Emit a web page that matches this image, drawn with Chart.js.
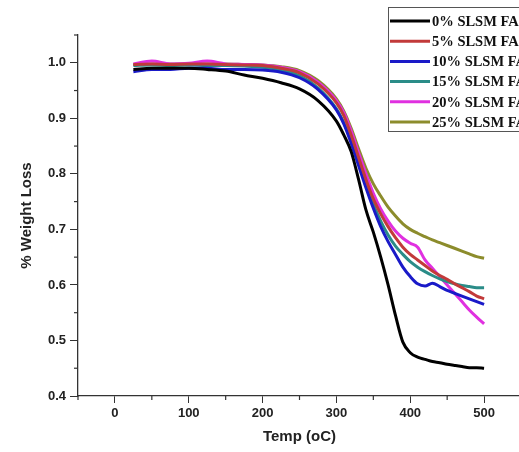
<!DOCTYPE html>
<html>
<head>
<meta charset="utf-8">
<script src="https://cdn.jsdelivr.net/npm/chart.js@4/dist/chart.umd.min.js"></script>
<style>
  html, body { margin: 0; padding: 0; background: #fff; overflow: hidden; }
  #wrap { width: 524px; height: 452px; }
</style>
</head>
<body>
<div id="wrap"><canvas id="tga"></canvas></div>
<script>
// temperature points (oC)
var temps = [25, 50, 75, 100, 125, 150, 175, 200, 225, 250, 275, 300, 310, 320, 330, 340, 350,
  360, 370, 380, 390, 400, 410, 420, 430, 440, 450, 460, 470, 480, 490, 500];

var labels = ["0% SLSM FA", "5% SLSM FA", "10% SLSM FA", "15% SLSM FA", "20% SLSM FA", "25% SLSM FA"];
var colors = ["#000000", "#c23a3a", "#1a1ac8", "#2a8c88", "#e030e0", "#8c8c2c"];

var slsm0 = [0.988, 0.990, 0.990, 0.990, 0.988, 0.985, 0.978, 0.972, 0.964, 0.953, 0.932, 0.895, 0.870, 0.840,
  0.790, 0.735, 0.695, 0.650, 0.600, 0.545, 0.497, 0.478, 0.470, 0.466, 0.462, 0.460, 0.457, 0.455, 0.453, 0.451, 0.451, 0.450];
var slsm5 = [0.997, 0.998, 0.997, 0.998, 0.998, 0.997, 0.996, 0.995, 0.990, 0.982, 0.962, 0.928, 0.905, 0.870,
  0.830, 0.790, 0.755, 0.728, 0.705, 0.685, 0.668, 0.655, 0.645, 0.635, 0.625, 0.617, 0.610, 0.602, 0.595, 0.588, 0.580, 0.575];
var slsm10 = [0.984, 0.988, 0.988, 0.990, 0.990, 0.988, 0.988, 0.987, 0.983, 0.973, 0.952, 0.915, 0.890, 0.855,
  0.815, 0.775, 0.738, 0.705, 0.678, 0.655, 0.632, 0.615, 0.602, 0.598, 0.603, 0.597, 0.590, 0.585, 0.580, 0.575, 0.570, 0.565];
var slsm15 = [0.995, 0.996, 0.995, 0.996, 0.995, 0.995, 0.994, 0.992, 0.987, 0.977, 0.955, 0.917, 0.892, 0.860,
  0.820, 0.780, 0.745, 0.715, 0.690, 0.670, 0.655, 0.642, 0.632, 0.624, 0.617, 0.611, 0.606, 0.602, 0.599, 0.597, 0.595, 0.595];
var slsm20 = [0.998, 1.003, 0.998, 0.999, 1.003, 0.998, 0.997, 0.996, 0.992, 0.984, 0.965, 0.932, 0.910, 0.877,
  0.838, 0.800, 0.765, 0.737, 0.715, 0.697, 0.684, 0.675, 0.668, 0.645, 0.630, 0.615, 0.600, 0.585, 0.570, 0.555, 0.542, 0.530];
var slsm25 = [0.997, 0.998, 0.998, 0.998, 0.998, 0.998, 0.997, 0.996, 0.993, 0.986, 0.968, 0.935, 0.913, 0.882,
  0.845, 0.810, 0.782, 0.760, 0.740, 0.724, 0.710, 0.700, 0.693, 0.687, 0.681, 0.676, 0.671, 0.666, 0.661, 0.656, 0.651, 0.648];

var series = [slsm0, slsm5, slsm10, slsm15, slsm20, slsm25];

function toPoints(vals) {
  return vals.map(function(v, i) { return {x: temps[i], y: v}; });
}

var datasets = series.map(function(vals, i) {
  return {
    label: labels[i],
    data: toPoints(vals),
    borderColor: colors[i],
    backgroundColor: colors[i],
    borderWidth: 3,
    pointRadius: 0,
    fill: false,
    cubicInterpolationMode: "monotone"
  };
});

var axisColor = "#333";
var tickFont = {family: "Liberation Sans", weight: "bold", size: 13};
var titleFont = {family: "Liberation Sans", weight: "bold", size: 15};

function isMajorX(v) { return v >= 0 && v <= 500 && v % 100 === 0; }
function isMajorY(v) { return Math.round(v * 100) % 10 === 0; }

// boxed legend in the top right corner + short minor ticks
var boxLegend = {
  id: "boxLegend",
  afterDraw: function(chart) {
    var ctx = chart.ctx;
    var xs = chart.scales.x, ys = chart.scales.y;
    ctx.save();
    ctx.strokeStyle = axisColor;
    ctx.lineWidth = 1.2;
    for (var t = -50; t <= 550; t += 50) {
      if (isMajorX(t)) continue;
      var px = xs.getPixelForValue(t);
      ctx.beginPath(); ctx.moveTo(px, ys.bottom); ctx.lineTo(px, ys.bottom + 4); ctx.stroke();
    }
    for (var k = 8; k <= 21; k++) {
      var v = k * 0.05;
      if (isMajorY(v)) continue;
      var py = ys.getPixelForValue(v);
      ctx.beginPath(); ctx.moveTo(xs.left, py); ctx.lineTo(xs.left - 4, py); ctx.stroke();
    }

    var bx = 388, by = 7, rowH = 20.2;
    ctx.fillStyle = "#fff";
    ctx.fillRect(bx, by, 145, 124);
    ctx.strokeStyle = "#555";
    ctx.lineWidth = 1;
    ctx.strokeRect(bx + 0.5, by + 0.5, 145, 124);
    ctx.font = "bold 14.5px 'Liberation Serif'";
    ctx.textBaseline = "middle";
    chart.data.datasets.forEach(function(ds, i) {
      var y = by + 14 + i * rowH;
      ctx.strokeStyle = ds.borderColor;
      ctx.lineWidth = 3;
      ctx.beginPath(); ctx.moveTo(bx + 2, y); ctx.lineTo(bx + 42, y); ctx.stroke();
      ctx.fillStyle = "#111";
      ctx.fillText(ds.label, bx + 44, y + 1);
    });
    ctx.restore();
  }
};

new Chart(document.getElementById("tga"), {
  type: "line",
  data: { datasets: datasets },
  plugins: [boxLegend],
  options: {
    responsive: true,
    maintainAspectRatio: false,
    animation: false,
    layout: { padding: { top: 35, right: 0, left: 0, bottom: 0 } },
    plugins: {
      legend: { display: false },
      tooltip: { enabled: false }
    },
    scales: {
      x: {
        type: "linear",
        min: -50,
        max: 550,
        afterFit: function(scale) { scale.height = 56; },
        border: { display: true, color: axisColor, width: 1.3 },
        grid: {
          drawOnChartArea: false,
          tickLength: 7,
          tickColor: function(ctx) { return isMajorX(ctx.tick.value) ? axisColor : "rgba(0,0,0,0)"; }
        },
        ticks: {
          stepSize: 50,
          autoSkip: false,
          maxRotation: 0,
          padding: 3,
          color: "#222",
          font: tickFont,
          callback: function(value) { return isMajorX(value) ? String(value) : ""; }
        },
        title: {
          display: true,
          text: "Temp (oC)",
          color: "#222",
          font: titleFont,
          padding: { top: 0, bottom: 6 }
        }
      },
      y: {
        min: 0.4,
        max: 1.05,
        afterFit: function(scale) { scale.width = 78; },
        border: { display: true, color: axisColor, width: 1.3 },
        grid: {
          drawOnChartArea: false,
          tickLength: 8,
          tickColor: function(ctx) { return isMajorY(ctx.tick.value) ? axisColor : "rgba(0,0,0,0)"; }
        },
        ticks: {
          stepSize: 0.05,
          autoSkip: false,
          padding: 4,
          color: "#222",
          font: tickFont,
          callback: function(value) { return isMajorY(value) ? value.toFixed(1) : ""; }
        },
        title: {
          display: true,
          text: "% Weight Loss",
          color: "#222",
          font: titleFont,
          padding: { top: 18, bottom: 0 }
        }
      }
    }
  }
});
</script>
</body>
</html>
